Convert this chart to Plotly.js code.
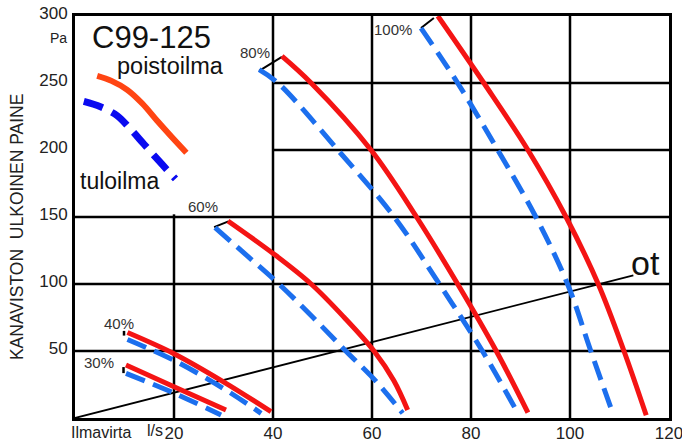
<!DOCTYPE html>
<html>
<head>
<meta charset="utf-8">
<script src="https://cdn.plot.ly/plotly-3.0.1.min.js"></script>
<style>html,body{margin:0;padding:0;background:#fff;}#chart{width:682px;height:445px;}</style>
</head>
<body>
<div id="chart"></div>
<script>
// ---- data ----
const xTicks = [20, 40, 60, 80, 100, 120];
const yTicks = [50, 100, 150, 200, 250, 300];
const yTickText = ['50', '100', '150', '200', '250', '300'];

// poistoilma (exhaust, red solid)
const poisto100X = [73.3, 82.6, 91.5, 99.2, 105.7, 110.9, 115.4];
const poisto100Y = [300, 250, 200, 150, 100, 50, 2];
const poisto80X = [41.8, 47.7, 59.8, 69.0, 77.3, 85.1, 91.5];
const poisto80Y = [270, 250, 200, 150, 100, 50, 4];
const poisto60X = [30.9, 40.3, 47.7, 54.4, 60.4, 64.4, 67.2];
const poisto60Y = [147, 122, 100, 75, 50, 28, 6];
const poisto40X = [10.6, 20, 30, 39.6];
const poisto40Y = [63.8, 48, 27, 4.7];
const poisto30X = [10.3, 20, 30.5];
const poisto30Y = [39.5, 23.3, 6];

// tuloilma (supply, blue dashed)
const tulo100X = [69.9, 77.3, 85.4, 93.1, 99.5, 104.2, 108.6];
const tulo100Y = [291, 250, 200, 150, 100, 50, 4];
const tulo80X = [37.2, 41, 53.1, 64.5, 73.6, 82.3, 89.4];
const tulo80Y = [260, 250, 200, 150, 100, 50, 4];
const tulo60X = [28.3, 34.8, 41.2, 48.1, 54.7, 60.9, 66.2];
const tulo60Y = [142, 121, 100, 75, 50, 27, 3.5];
const tulo40X = [10.6, 20, 30, 37.6];
const tulo40Y = [58.6, 43, 22, 3.5];
const tulo30X = [10.3, 20, 29.5];
const tulo30Y = [33.3, 18.6, 2.2];

// short black connectors at curve starts
const conn100X = [69.9, 72.5];  const conn100Y = [291, 298.5];
const conn80X = [37.2, 41.8];   const conn80Y = [259, 269.5];
const conn60X = [28.1, 31];     const conn60Y = [142.4, 146.7];
const conn40X = [9.9, 9.9];     const conn40Y = [61.5, 65];
const conn30X = [9.8, 9.8];     const conn30Y = [33.5, 38];

// operating line "ot"
const otX = [0, 112.8];
const otY = [0, 106.5];

// legend sample curves
const legPoistoX = [4.48, 7.37, 10.55, 13.64, 16.6, 19.5, 22.5];
const legPoistoY = [255.3, 251.6, 244.9, 234.5, 221.8, 209.9, 198];
const legTuloX = [1.78, 5.15, 8.53, 11.21, 13.9, 16.87, 20.3];
const legTuloY = [236.2, 232.2, 225.6, 215.6, 204.5, 192.2, 178.4];

// percent labels
const pctText = ['100%', '80%', '60%', '40%', '30%'];
const pctX = [64.3, 36.3, 25.9, 8.9, 4.9];
const pctY = [290.3, 272.5, 157.8, 70.5, 41.7];

// ---- styles ----
const RED = '#f41414';
const BLUE = '#1c6fee';
const mainW = 5;

function line(x, y, color, width, dash) {
  return {type: 'scatter', mode: 'lines', x: x, y: y, hoverinfo: 'skip',
          line: {color: color, width: width, dash: dash || 'solid', shape: 'spline', smoothing: 1}};
}

const traces = [
  line(otX, otY, '#000', 1.8),
  line(conn100X, conn100Y, '#000', 2), line(conn80X, conn80Y, '#000', 2), line(conn60X, conn60Y, '#000', 2),
  line(conn40X, conn40Y, '#000', 2.5), line(conn30X, conn30Y, '#000', 2.5),
  line(tulo100X, tulo100Y, BLUE, mainW, '20px,9px'),
  line(tulo80X, tulo80Y, BLUE, mainW, '20px,9px'),
  line(tulo60X, tulo60Y, BLUE, mainW, '20px,9px'),
  line(tulo40X, tulo40Y, BLUE, mainW, '20px,9px'),
  line(tulo30X, tulo30Y, BLUE, mainW, '20px,9px'),
  line(poisto100X, poisto100Y, RED, mainW),
  line(poisto80X, poisto80Y, RED, mainW),
  line(poisto60X, poisto60Y, RED, mainW),
  line(poisto40X, poisto40Y, RED, mainW),
  line(poisto30X, poisto30Y, RED, mainW),
  line(legPoistoX, legPoistoY, '#ff4513', 6),
  line(legTuloX, legTuloY, '#0a0af0', 7, '20px,10px')
];

// grid lines (irregular, as in the original)
const shapes = [];
function seg(x0, y0, x1, y1, w) {
  shapes.push({type: 'line', xref: 'x', yref: 'y', x0: x0, y0: y0, x1: x1, y1: y1,
               layer: 'below', line: {color: '#000', width: w || 2.5}});
}
seg(20, 0, 20, 152);
[40, 60, 80, 100].forEach(v => seg(v, 0, v, 300));
[50, 100, 150].forEach(v => seg(0, v, 120, v));
[200, 250].forEach(v => seg(40, v, 120, v));

const FONT = 'Liberation Sans, Arial, sans-serif';
const annotations = [];
function txt(text, x, y, size, color, opts) {
  annotations.push(Object.assign({text: text, x: x, y: y, xref: 'x', yref: 'y', showarrow: false,
    font: {family: FONT, size: size, color: color || '#222'}, xanchor: 'center', yanchor: 'middle'}, opts || {}));
}
function ptxt(text, x, y, size, color, opts) {
  txt(text, x, y, size, color, Object.assign({xref: 'paper', yref: 'paper'}, opts || {}));
}
pctText.forEach((t, i) => txt(t, pctX[i], pctY[i], 15, '#333'));
txt('C99-125', 15.5, 283.8, 31, '#111');
txt('poistoilma', 19.2, 262.5, 23.5, '#111');
txt('tuloilma', 9.0, 176.5, 23, '#111');
txt('ot', 112.0, 115.5, 34, '#111', {xanchor: 'left'});
ptxt('Pa', -0.0286, 0.945, 14, '#222');
ptxt('Ilmavirta', 0.0438, -0.037, 16, '#222');
ptxt('l/s', 0.1347, -0.031, 16, '#222');
ptxt('KANAVISTON  ULKOINEN PAINE', -0.0976, 0.475, 17.5, '#222', {textangle: -90});

const layout = {
  width: 682, height: 445,
  margin: {l: 75, r: 13, t: 16, b: 27, pad: 0},
  paper_bgcolor: '#fff', plot_bgcolor: '#fff',
  showlegend: false,
  font: {family: FONT, size: 16, color: '#222'},
  xaxis: {range: [0, 120], tickvals: xTicks, ticktext: xTicks.map(String), ticks: '',
          showgrid: false, zeroline: false, showline: true, mirror: true, linecolor: '#000', linewidth: 3,
          tickfont: {family: FONT, size: 17, color: '#222'}, ticklabelstandoff: -2, ticklabeloverflow: 'allow',
          automargin: false, fixedrange: true},
  yaxis: {range: [0, 300], tickvals: yTicks, ticktext: yTickText, ticks: '',
          showgrid: false, zeroline: false, showline: true, mirror: true, linecolor: '#000', linewidth: 3,
          tickfont: {family: FONT, size: 17, color: '#222'}, ticklabelstandoff: 1, ticklabelshift: -3,
          ticklabeloverflow: 'allow', automargin: false, fixedrange: true},
  shapes: shapes,
  annotations: annotations
};

Plotly.newPlot('chart', traces, layout, {staticPlot: true, displayModeBar: false});
</script>
</body>
</html>
